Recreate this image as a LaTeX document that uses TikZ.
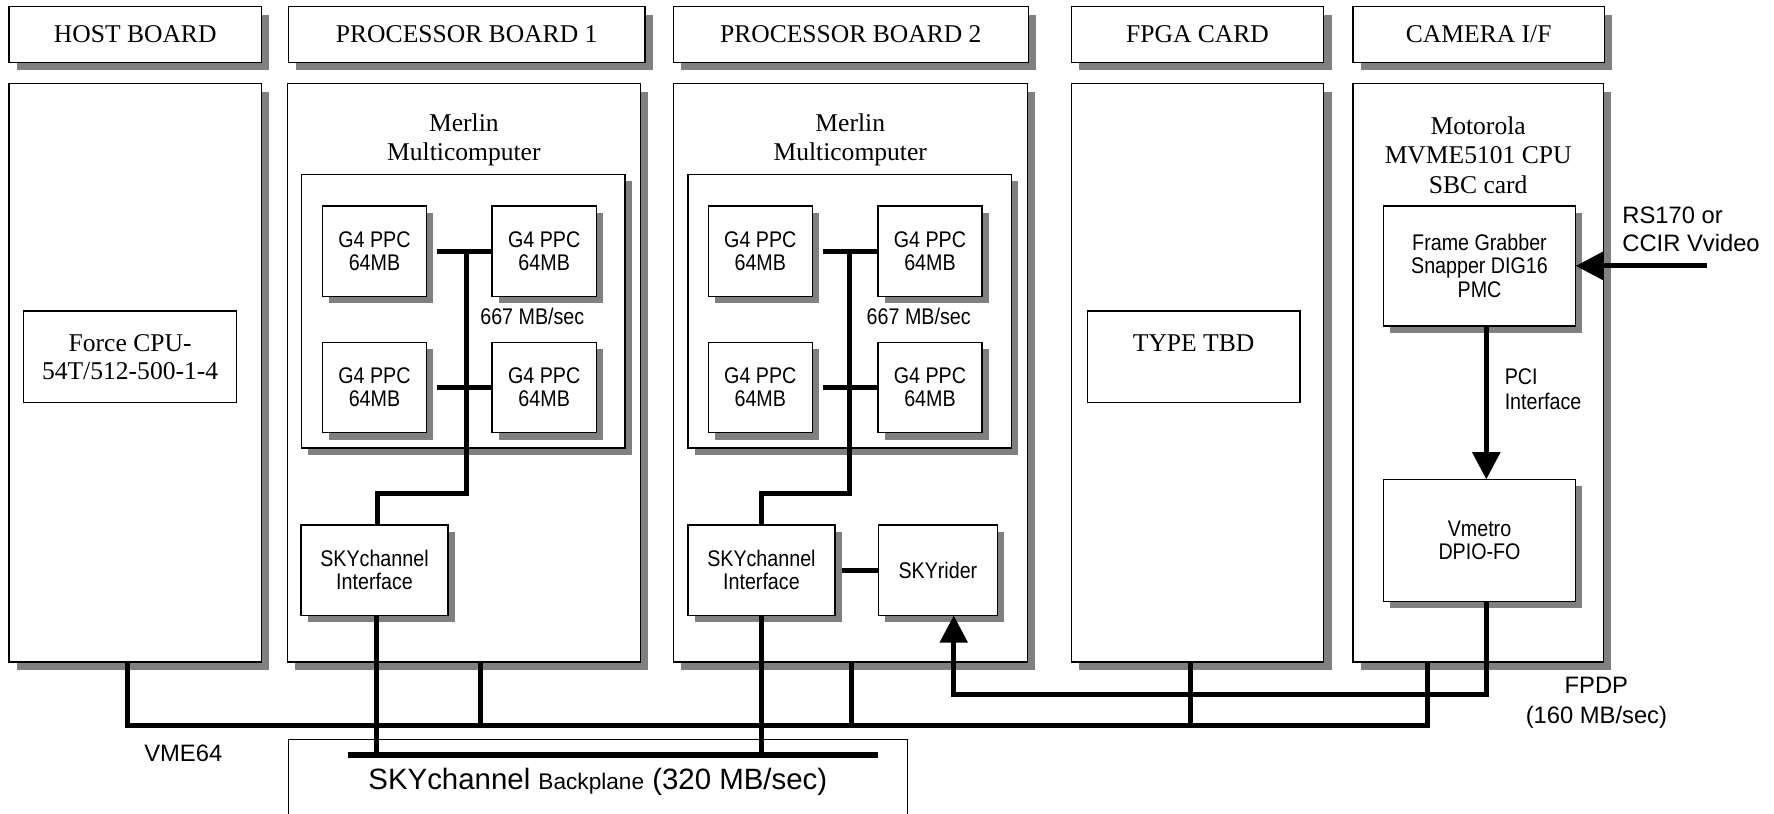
\documentclass[tikz,border=0pt]{standalone}
\usepackage{fontspec}
\setmainfont{Liberation Serif}
\newfontfamily\arialfont{Liberation Sans}
\newfontfamily\narrowfont[FakeStretch=0.87]{Liberation Sans}
\usetikzlibrary{shapes,arrows.meta,positioning,shadows}
\definecolor{shadowgray}{RGB}{128,128,128}

\begin{document}
\begin{tikzpicture}[
    x=0.5pt, y=-0.5pt,
    every node/.style={align=center, inner sep=0pt, outer sep=0pt},
    plain/.style={rectangle, draw, line width=0.6pt, fill=white, font=\fontsize{11.3}{12.5}\selectfont},
    board/.style={plain, drop shadow={shadow xshift=3.5pt, shadow yshift=-3.5pt, fill=shadowgray, opacity=1}},
    header/.style={board, minimum height=24.5pt},
    body/.style={board, minimum height=255.5pt},
    chip/.style={rectangle, draw, line width=0.6pt, fill=white, drop shadow={shadow xshift=3pt, shadow yshift=-3pt, fill=shadowgray, opacity=1}, font=\narrowfont\fontsize{10}{10.3}\selectfont},
    ppc/.style={chip, minimum width=46pt, minimum height=40pt},
    caption/.style={font=\fontsize{11.3}{12.5}\selectfont},
    note/.style={font=\narrowfont\fontsize{10}{11}\selectfont},
    bus/.style={line width=2.2pt, line join=miter},
    arrow/.style={bus, -{Triangle[length=12pt,width=12pt]}}
]
\useasboundingbox (0,0) rectangle (1568,719);
\clip (0,0) rectangle (1568,719);

% Board headers
\node[header, minimum width=111.5pt] (host_h) at (119.5,30.5) {HOST BOARD};
\node[header, minimum width=157.5pt] (pb1_h) at (412.5,30.5) {PROCESSOR BOARD 1};
\node[header, minimum width=157pt] (pb2_h) at (752,30.5) {PROCESSOR BOARD 2};
\node[header, minimum width=111.5pt] (fpga_h) at (1058.5,30.5) {FPGA CARD};
\node[header, minimum width=111pt] (cam_h) at (1307,30.5) {CAMERA I/F};

% Board bodies
\node[body, minimum width=111.5pt] (host_b) at (119.5,329.5) {};
\node[body, minimum width=156pt] (pb1_b) at (410,329.5) {};
\node[body, minimum width=156.5pt] (pb2_b) at (751.5,329.5) {};
\node[body, minimum width=111.5pt] (fpga_b) at (1058.5,329.5) {};
\node[body, minimum width=110.5pt] (cam_b) at (1306.5,329.5) {};

% Host and FPGA
\node[plain, minimum width=94pt, minimum height=40.5pt] (force) at (115,315.5) {Force CPU-\\54T/512-500-1-4};
\node[plain, minimum width=94pt, minimum height=40.5pt] (tbd) at (1055,315.5) {TYPE TBD\\~};

% Processor board 1
\node[caption] (merlin1) at (410,123.5) {Merlin\\Multicomputer};
\node[chip, minimum width=143pt, minimum height=121pt] (mc1) at (409.5,275) {};
\node[ppc] (g11) at (331,222) {G4 PPC\\64MB};
\node[ppc] (g12) at (481,222) {G4 PPC\\64MB};
\node[ppc] (g13) at (331,342.5) {G4 PPC\\64MB};
\node[ppc] (g14) at (481,342.5) {G4 PPC\\64MB};
\node[note] (rate1) at (470.5,279.5) {667 MB/sec};
\node[chip, minimum width=65pt, minimum height=40pt] (sc1) at (331,504) {SKYchannel\\Interface};

% Processor board 2
\node[caption] (merlin2) at (751.5,123.5) {Merlin\\Multicomputer};
\node[chip, minimum width=143pt, minimum height=121pt] (mc2) at (751,275) {};
\node[ppc] (g21) at (672,222) {G4 PPC\\64MB};
\node[ppc] (g22) at (822,222) {G4 PPC\\64MB};
\node[ppc] (g23) at (672,342.5) {G4 PPC\\64MB};
\node[ppc] (g24) at (822,342.5) {G4 PPC\\64MB};
\node[note] (rate2) at (812,279.5) {667 MB/sec};
\node[chip, minimum width=65pt, minimum height=40pt] (sc2) at (673,504) {SKYchannel\\Interface};
\node[chip, minimum width=52.5pt, minimum height=40pt] (rider) at (829,504) {SKYrider};

% Camera interface
\node[caption, font=\fontsize{11.3}{13}\selectfont] (moto) at (1306.5,137) {Motorola\\MVME5101 CPU\\SBC card};
\node[chip, minimum width=85pt, minimum height=53pt] (fg) at (1307.7,235) {Frame Grabber\\Snapper DIG16\\PMC};
\node[chip, minimum width=85pt, minimum height=54pt] (vm) at (1307.7,477.7) {Vmetro\\DPIO-FO};
\node[note, anchor=west, align=left] (pci) at (1330,344) {PCI\\Interface};
\node[font=\arialfont\fontsize{10.5}{12.5}\selectfont, anchor=west, align=left] (video_lbl) at (1434,202.5) {RS170 or\\CCIR Vvideo};

% Backplane
\node[plain, anchor=north, minimum width=273.6pt, minimum height=38pt, font=\arialfont\fontsize{13}{15}\selectfont] (bp) at (528.4,653.5) {SKYchannel {\fontsize{10}{12}\selectfont Backplane} (320 MB/sec)};
\node[font=\arialfont\fontsize{10.5}{12}\selectfont] (vme_lbl) at (162,665.7) {VME64};
\node[font=\arialfont\fontsize{10.5}{13.4}\selectfont] (fpdp_lbl) at (1411,621.4) {FPDP\\(160 MB/sec)};

% Processor buses
\foreach \a/\b in {g11/g12, g13/g14, g21/g22, g23/g24}
  \draw[bus] ([xshift=4.5pt]\a.east) -- (\b.west);
\coordinate (t1) at (412,222);
\coordinate (k1) at (412,436);
\draw[bus] (t1) -- (k1) -| ([xshift=1.5pt]sc1.north);
\coordinate (t2) at (751,222);
\coordinate (k2) at (751,436);
\draw[bus] (t2) -- (k2) -| (sc2.north);
\draw[bus] ([xshift=3pt]sc2.east) -- (rider.west);

% VME64
\coordinate (vme_l) at (112.5,641);
\coordinate (vme_r) at (1262,641);
\draw[bus] ([xshift=-3.5pt]host_b.south) -- (vme_l) -- (vme_r) -- ([xshift=-22.25pt]cam_b.south);
\foreach \b/\s in {pb1_b/7.5pt, pb2_b/0.5pt, fpga_b/-3pt}
  \draw[bus] ([xshift=\s]\b.south) -- ([xshift=\s]\b.south |- vme_l);

% SKYchannel backplane
\coordinate (sky_l) at (307.3,667.3);
\coordinate (sky_r) at (776,667.3);
\draw[line width=3pt] (sky_l) -- (sky_r);
\draw[bus] ([xshift=1pt]sc1.south) -- ([xshift=1pt]sc1.south |- sky_l);
\draw[bus] (sc2.south) -- (sc2.south |- sky_l);

% Video, PCI and FPDP
\coordinate (video) at (1508.5,235);
\draw[arrow] (video) -- (fg.east);
\draw[arrow] ([xshift=3pt]fg.south) -- ([xshift=3pt]vm.north);
\coordinate (fpdp) at (843,613.7);
\draw[arrow] ([xshift=3pt]vm.south) |- (fpdp) -- ([xshift=7pt]rider.south);

\end{tikzpicture}
\end{document}
